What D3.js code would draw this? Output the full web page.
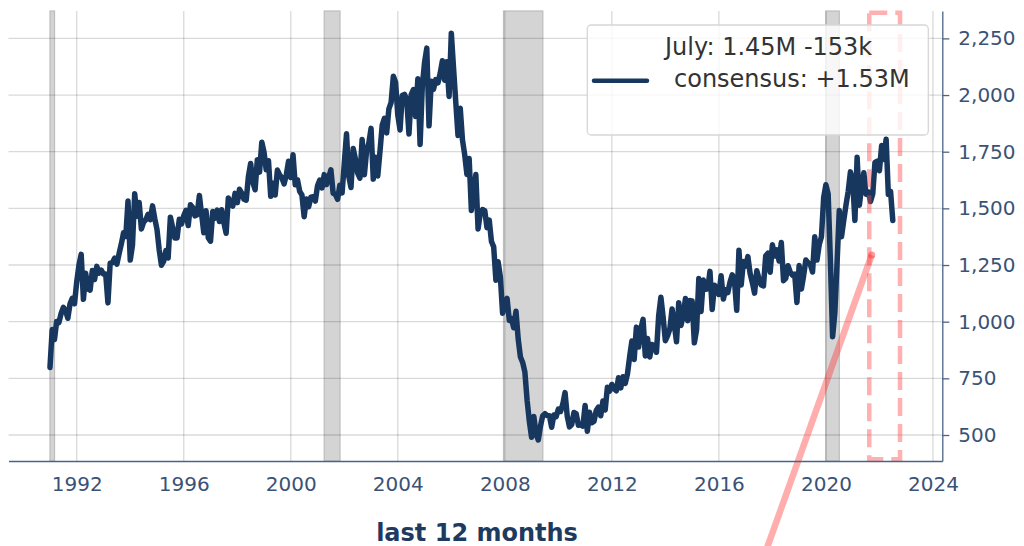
<!DOCTYPE html>
<html>
<head>
<meta charset="utf-8">
<script src="https://cdn.jsdelivr.net/npm/d3@7"></script>
<style>
  body { margin: 0; background: #fff; }
  svg text { font-family: "DejaVu Sans", sans-serif; }
</style>
</head>
<body>
<svg id="chart" width="1024" height="546"></svg>
<script>
// housing starts, thousands of units (SAAR), monthly from Jan 1991
var firstYear = 1991;
var starts1990s = [
  798, 965, 921, 1001, 996, 1036, 1063, 1049, 1015, 1079, 1103, 1079,
  1176, 1250, 1297, 1099, 1214, 1145, 1139, 1226, 1186, 1244, 1214, 1227,
  1210, 1210, 1083, 1258, 1260, 1280, 1254, 1300, 1343, 1392, 1376, 1533,
  1272, 1337, 1564, 1465, 1526, 1409, 1439, 1450, 1474, 1450, 1511, 1455,
  1407, 1316, 1249, 1267, 1314, 1281, 1461, 1416, 1369, 1369, 1452, 1431,
  1467, 1491, 1424, 1516, 1504, 1467, 1472, 1557, 1475, 1392, 1489, 1370,
  1355, 1486, 1457, 1492, 1442, 1494, 1437, 1390, 1546, 1520, 1510, 1566,
  1525, 1584, 1567, 1540, 1536, 1641, 1698, 1614, 1582, 1715, 1660, 1792,
  1748, 1670, 1710, 1553, 1611, 1559, 1669, 1648, 1635, 1608, 1648, 1708
];
var starts2000s = [
  1636, 1737, 1604, 1626, 1575, 1559, 1463, 1541, 1507, 1549, 1551, 1532,
  1600, 1625, 1590, 1649, 1605, 1636, 1670, 1567, 1562, 1540, 1602, 1568,
  1698, 1829, 1642, 1592, 1764, 1717, 1655, 1633, 1804, 1648, 1753, 1788,
  1853, 1629, 1726, 1643, 1751, 1867, 1897, 1833, 1939, 1967, 2083, 2057,
  1911, 1846, 1998, 2003, 1981, 1828, 2002, 2024, 1905, 2072, 1782, 2042,
  2144, 2207, 1864, 2061, 2025, 2068, 2054, 2095, 2151, 2065, 2147, 1994,
  2273, 2119, 1969, 1821, 1942, 1802, 1737, 1650, 1720, 1491, 1570, 1649,
  1409, 1480, 1495, 1490, 1415, 1448, 1354, 1330, 1183, 1264, 1197, 1037,
  1084, 1103, 1005, 1013, 973, 1046, 923, 844, 820, 777, 652, 560,
  490, 582, 505, 478, 540, 585, 594, 586, 585, 534, 588, 581
];
var starts2010s = [
  614, 604, 636, 687, 583, 536, 546, 599, 594, 543, 545, 539,
  630, 517, 600, 554, 561, 608, 623, 585, 650, 610, 711, 694,
  723, 704, 695, 753, 708, 757, 728, 770, 847, 915, 833, 976,
  888, 969, 1010, 849, 926, 844, 899, 895, 865, 1027, 1108, 1019,
  916, 938, 968, 1056, 989, 911, 1084, 983, 1028, 1102, 1004, 1093,
  1091, 907, 964, 1190, 1045, 1184, 1143, 1145, 1222, 1054, 1161, 1148,
  1120, 1203, 1100, 1141, 1128, 1175, 1207, 1179, 1050, 1315, 1162, 1265,
  1245, 1287, 1213, 1173, 1126, 1225, 1190, 1162, 1158, 1291, 1302, 1218,
  1339, 1290, 1317, 1268, 1349, 1181, 1191, 1247, 1219, 1205, 1210, 1085,
  1248, 1144, 1203, 1272, 1260, 1253, 1219, 1375, 1272, 1340, 1375, 1548
];
var starts2020s = [
  1604, 1564, 1272, 934, 1038, 1258, 1491, 1375, 1447, 1514, 1575, 1661,
  1625, 1447, 1725, 1514, 1594, 1657, 1562, 1573, 1530, 1563, 1703, 1708,
  1666, 1777, 1716, 1805, 1562, 1575, 1446
];

// recession spans (decimal years)
var recessions = [[1991.0, 1991.17], [2001.25, 2001.84], [2007.95, 2009.42], [2020.0, 2020.5]];
// last-12-months highlight box and the arrow pointing at it
var highlightBox = { x0: 2021.62, x1: 2022.77, y0: 393, y1: 2363 };
var arrowFrom = [2017.64, -51], arrowTo = [2021.71, 1294];

var xTickYears = [1992, 1996, 2000, 2004, 2008, 2012, 2016, 2020, 2024];
var yTicks = [500, 750, 1000, 1250, 1500, 1750, 2000, 2250];
var legendLines = ["July: 1.45M -153k", "consensus: +1.53M"];
var noteText = "last 12 months";

var navy = "#18375f";
var axisColor = "#4a6487";

var dataset = starts1990s.concat(starts2000s, starts2010s, starts2020s).map(function (v, i) {
    return { t: firstYear + i / 12, v: v };
});

var svg = d3.select("#chart");

var xScale = d3.scaleLinear()
    .domain([1989.45, 2024.35])
    .range([8.5, 942.3]);

var yScale = d3.scaleLinear()
    .domain([385.3, 2370.8])
    .range([461, 11]);

var plotTop = yScale.range()[1], plotBottom = yScale.range()[0];
var plotLeft = xScale.range()[0], plotRight = xScale.range()[1];

// recession shading
svg.append("g").selectAll("rect")
    .data(recessions)
    .enter().append("rect")
    .attr("x", function (d) { return xScale(d[0]); })
    .attr("width", function (d) { return xScale(d[1]) - xScale(d[0]); })
    .attr("y", plotTop)
    .attr("height", plotBottom - plotTop)
    .style("fill", "#d4d4d4")
    .style("stroke", "#bdbdbd")
    .style("stroke-width", 1.2);

// grid
var grid = svg.append("g").style("stroke", "rgba(0,0,0,0.15)").style("stroke-width", 1.3);
grid.selectAll(".vgrid")
    .data(xTickYears)
    .enter().append("line")
    .attr("x1", function (d) { return xScale(d); })
    .attr("x2", function (d) { return xScale(d); })
    .attr("y1", plotTop)
    .attr("y2", plotBottom);
grid.selectAll(".hgrid")
    .data(yTicks)
    .enter().append("line")
    .attr("x1", plotLeft)
    .attr("x2", plotRight)
    .attr("y1", function (d) { return yScale(d); })
    .attr("y2", function (d) { return yScale(d); });

// the series
var line = d3.line()
    .x(function (d) { return xScale(d.t); })
    .y(function (d) { return yScale(d.v); });

svg.append("path")
    .datum(dataset)
    .attr("d", line)
    .style("fill", "none")
    .style("stroke", navy)
    .style("stroke-width", 5.5)
    .style("stroke-linejoin", "round")
    .style("stroke-linecap", "round");

// dashed highlight box
svg.append("rect")
    .attr("x", xScale(highlightBox.x0))
    .attr("y", yScale(highlightBox.y1))
    .attr("width", xScale(highlightBox.x1) - xScale(highlightBox.x0))
    .attr("height", yScale(highlightBox.y0) - yScale(highlightBox.y1))
    .style("fill", "none")
    .style("stroke", "rgba(255,70,70,0.42)")
    .style("stroke-width", 4.5)
    .style("stroke-dasharray", "18,8");

// arrow from the note
svg.append("line")
    .attr("x1", xScale(arrowFrom[0]))
    .attr("y1", yScale(arrowFrom[1]))
    .attr("x2", xScale(arrowTo[0]))
    .attr("y2", yScale(arrowTo[1]))
    .style("stroke", "rgba(255,50,50,0.4)")
    .style("stroke-width", 6.5);
svg.append("circle")
    .attr("cx", xScale(arrowTo[0]))
    .attr("cy", yScale(arrowTo[1]))
    .attr("r", 3.5)
    .style("fill", "rgba(255,50,50,0.5)");

// axes
var xAxis = svg.append("g")
    .attr("transform", "translate(0," + plotBottom + ")")
    .call(d3.axisBottom(xScale).tickValues(xTickYears).tickFormat(d3.format("d"))
        .tickSize(0).tickSizeOuter(0).tickPadding(16));
var yAxis = svg.append("g")
    .attr("transform", "translate(" + plotRight + ",0)")
    .call(d3.axisRight(yScale).tickValues(yTicks).tickFormat(d3.format(","))
        .tickSize(7).tickSizeOuter(0).tickPadding(9));
[xAxis, yAxis].forEach(function (g) {
    g.select(".domain").style("stroke", axisColor).style("stroke-width", 1.3);
    g.selectAll(".tick line").style("stroke", axisColor).style("stroke-width", 1.3);
    g.selectAll(".tick text").style("fill", "#3a5276").style("font-size", "20px")
        .style("font-family", "DejaVu Sans");
});

// legend
var legend = svg.append("g");
legend.append("rect")
    .attr("x", 587.3).attr("y", 25)
    .attr("width", 341).attr("height", 110)
    .attr("rx", 4)
    .style("fill", "rgba(255,255,255,0.8)")
    .style("stroke", "#d6d6d6")
    .style("stroke-width", 1.3);
legend.append("line")
    .attr("x1", 594).attr("x2", 647)
    .attr("y1", 80.7).attr("y2", 80.7)
    .style("stroke", navy)
    .style("stroke-width", 4.5)
    .style("stroke-linecap", "round");
legend.selectAll(".lg")
    .data(legendLines)
    .enter().append("text")
    .attr("x", function (d, i) { return i === 0 ? 665 : 674; })
    .attr("y", function (d, i) { return 55 + i * 31.5; })
    .style("font-size", "24px")
    .style("fill", "#333")
    .text(function (d) { return d; });

// note below the axis
svg.append("text")
    .attr("x", 477)
    .attr("y", 541)
    .style("text-anchor", "middle")
    .style("font-size", "24px")
    .style("font-weight", "bold")
    .style("fill", "#1f3a5f")
    .text(noteText);
</script>
</body>
</html>
